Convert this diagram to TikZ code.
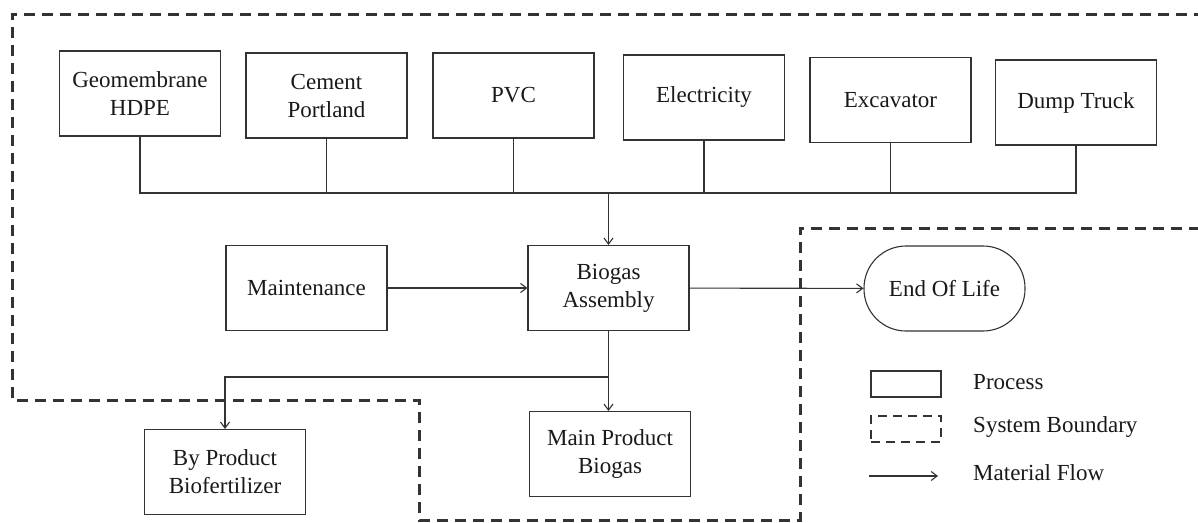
\documentclass[tikz,border=0pt]{standalone}
\usepackage{fontspec}
\setmainfont{Liberation Serif}
\usetikzlibrary{arrows.meta}

\tikzset{
    process/.style={draw=black!80, line width=1.1pt, minimum width=161pt, minimum height=85pt,
        align=center, inner sep=2pt, text=black!90, font=\fontsize{23}{28}\selectfont},
    endlife/.style={process, rounded corners=42pt},
    boundary/.style={draw=black!80, line width=3pt, dash pattern=on 11pt off 7pt},
    flow/.style={draw=black!80, line width=1.1pt},
    legendtext/.style={anchor=west, text=black!90, font=\fontsize{23}{28}\selectfont, inner sep=0pt},
    >={Straight Barb[length=6pt,width=9pt]}
}

\begin{document}
\begin{tikzpicture}[x=1pt, y=-1pt]

    \useasboundingbox (0,0) rectangle (1198,522);

    % system boundary
    \draw [boundary] (1200,228) -- (800,228) -- (800,520) -- (419,520) -- (419,400)
        -- (12,400) -- (12,14) -- (1200,14);

    % inputs
    \node [process] (geo) at (140,93.5) {Geomembrane\\HDPE};
    \node [process] (cement) at (326.5,95.5) {Cement\\Portland};
    \node [process] (pvc) at (513.5,95.5) {PVC};
    \node [process] (elec) at (704,97.5) {Electricity};
    \node [process] (excav) at (890.5,100) {Excavator};
    \node [process] (truck) at (1076,102.5) {Dump Truck};

    \node [process] (maint) at (306.5,288) {Maintenance};
    \node [process] (assembly) at (608.5,288) {Biogas\\Assembly};
    \node [endlife] (eol) at (944.5,288.5) {End Of Life};

    \node [process] (byprod) at (225,472) {By Product\\Biofertilizer};
    \node [process] (mainprod) at (610,454) {Main Product\\Biogas};

    \coordinate (bus) at (608.5,193);
    \coordinate (split) at (608.5,377);

    \foreach \n in {geo, cement, pvc, elec, excav, truck}
        \draw [flow] (\n.south) |- (bus);

    \draw [flow, ->] (bus) -- (assembly);
    \draw [flow, ->] (maint) -- (assembly);
    \draw [flow, ->] (assembly) -- (eol);
    \draw [flow] (assembly) -- (split);
    \draw [flow, ->] (split) -- (split |- mainprod.north);
    \draw [flow, ->] (split) -| (byprod);

    % legend
    \node [draw=black!80, line width=1.1pt, minimum width=70pt, minimum height=26pt] (legproc) at (906,384) {};
    \node [boundary, line width=2.2pt, dash pattern=on 9pt off 6pt, minimum width=70pt, minimum height=26pt] (legbound) at (906,429) {};
    \coordinate (legflowa) at (869,476);
    \coordinate (legflowb) at (938,476);
    \draw [flow, ->] (legflowa) -- (legflowb);

    \node [legendtext] (legproctext) at (973,382) {Process};
    \node [legendtext] (legboundtext) at (973,427) {System Boundary};
    \node [legendtext] (legflowtext) at (973,473) {Material Flow};

\end{tikzpicture}
\end{document}
